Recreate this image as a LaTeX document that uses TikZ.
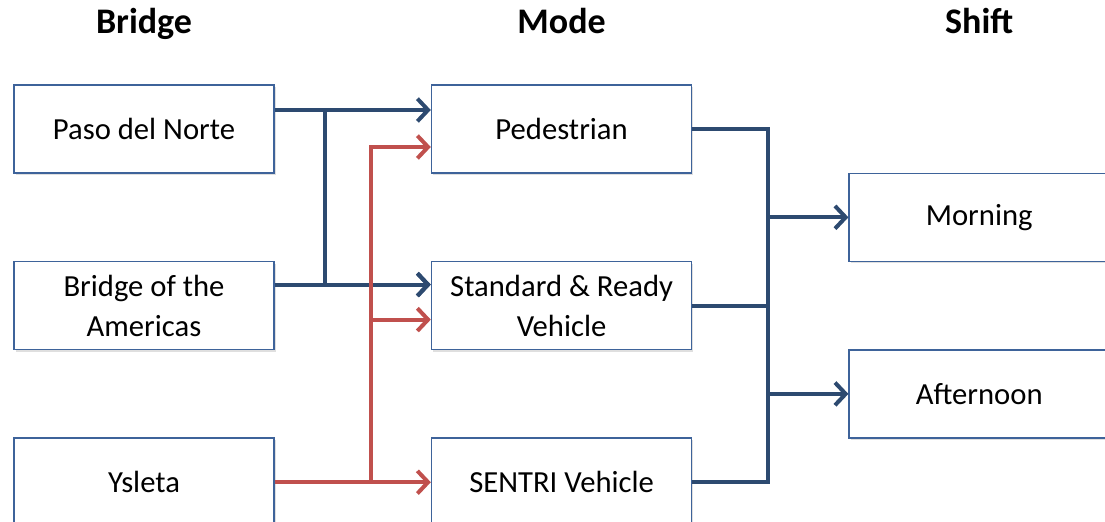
\documentclass[tikz,border=0pt]{standalone}
\usepackage{fontspec}
\setmainfont{Carlito}
\usepackage{tikz}
\usetikzlibrary{arrows.meta,positioning,calc,shadows}

\definecolor{linkblue}{HTML}{2D4A70}
\definecolor{boxblue}{HTML}{3E639A}
\definecolor{linkred}{HTML}{C0504D}

\begin{document}
\begin{tikzpicture}[
  node distance=65.25pt and 117pt,
  box/.style={draw=boxblue,fill=white,line width=1.2pt,align=center,
    minimum width=195pt,minimum height=66pt,inner sep=2pt,
    font=\fontsize{23}{30}\selectfont,
    drop shadow={shadow xshift=1.2pt,shadow yshift=-1.5pt,opacity=0.25}},
  title/.style={anchor=base,font=\fontsize{27}{30}\selectfont\bfseries},
  blueln/.style={draw=linkblue,line width=3pt},
  bluearr/.style={blueln,-{Straight Barb[length=8pt,width=17pt]}},
  redarr/.style={draw=linkred,line width=3pt,-{Straight Barb[length=8pt,width=17pt]}}
]
\useasboundingbox (-108pt,96.75pt) rectangle (720.75pt,-294pt);

% bridges
\node[box] (paso) at (0,0) {Paso del Norte};
\node[box, below=of paso] (amer) {Bridge of the\\Americas};
\node[box, below=of amer] (ysl) {Ysleta};

% modes
\node[box, right=of paso] (ped) {Pedestrian};
\node[box, right=of amer] (std) {Standard \& Ready\\Vehicle};
\node[box, right=of ysl] (sentri) {SENTRI Vehicle};

% shifts
\coordinate (m1) at ($(ped.east)!0.5!(std.east)$);
\coordinate (m2) at ($(std.east)!0.5!(sentri.east)$);
\node[box, right=of m1] (morn) {Morning};
\node[box, right=of m2] (aft) {Afternoon};

% headings
\node[title] (tbridge) at ([yshift=38pt]paso.north) {Bridge};
\node[title] (tmode) at ([yshift=38pt]ped.north) {Mode};
\node[title] (tshift) at ([yshift=38pt]ped.north -| morn) {Shift};

% bridge -> mode
\draw[bluearr] ([yshift=14.25pt]paso.east) -- ([yshift=14.25pt]ped.west);
\draw[bluearr] ([yshift=14.25pt]paso.east) -- ++(38pt,0) |- ([yshift=15.75pt]std.west);
\draw[bluearr] ([yshift=15.75pt]amer.east) -- ([yshift=15.75pt]std.west);
\draw[redarr] (ysl.east) -- (sentri.west);
\draw[redarr] (ysl.east) -- ++(72pt,0) |- ([yshift=-13.5pt]ped.west);
\draw[redarr] (ysl.east) -- ++(72pt,0) |- ([yshift=-10.5pt]std.west);

% mode -> shift
\coordinate (bus) at ([xshift=57pt]ped.east);
\draw[blueln] (ped.east) -- (bus) -- (bus |- sentri.east) -- (sentri.east);
\draw[blueln] (std.east) -- (bus |- std.east);
\draw[bluearr] (bus |- morn.west) -- (morn.west);
\draw[bluearr] (bus |- aft.west) -- (aft.west);
\end{tikzpicture}
\end{document}
